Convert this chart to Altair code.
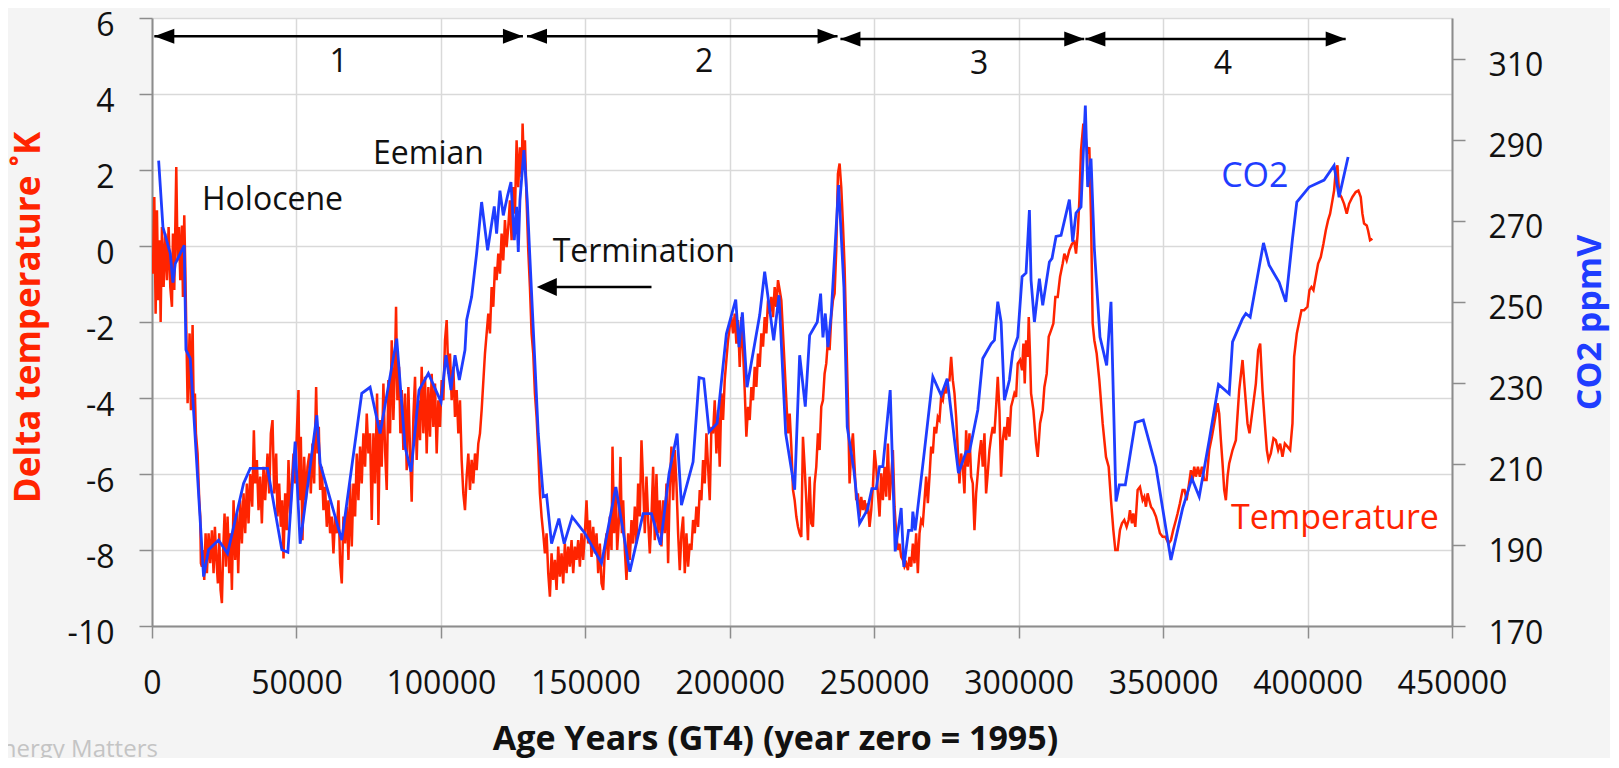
import altair as alt
import pandas as pd

RED = "#FF2400"
BLUE = "#1F3DFF"
FONT = "Open Sans"

# ---------------- data ----------------
TEMP_AGE = [
    334, 795, 1256, 1717, 2178, 2640, 2985, 3446, 4023, 4600, 5176, 5750, 6328, 6905, 7250, 7711, 8403, 8864, 9325, 9786,
    10363, 10709, 11170, 11515, 11861, 12322, 13014, 13475, 14051, 14397, 14858, 15204, 15780, 16357, 16703, 16933, 17279,
    17625, 18086, 18547, 19008, 19585, 20161, 20737, 21313, 21774, 22235, 22812, 23273, 23734, 24195, 24656, 25117, 25578,
    26155, 26731, 27192, 27653, 28230, 28806, 29382, 29843, 30535, 31111, 31688, 32264, 32840, 33417, 33993, 34685, 35261,
    35722, 36298, 36875, 37451, 38027, 38604, 39180, 39987, 40563, 41140, 41716, 42292, 42984, 43445, 44022, 44598, 45059,
    45520, 46097, 46673, 47249, 47825, 48402, 48978, 49555, 50131, 50707, 51053, 51514, 52090, 52667, 53243, 53820, 54511,
    54972, 55548, 56125, 56816, 57277, 57739, 58200, 58776, 59352, 59929, 60505, 61082, 61658, 62234, 62810, 63387, 63963,
    64540, 65116, 65692, 66269, 66845, 67421, 67998, 68574, 69151, 69727, 70303, 70880, 71456, 72032, 72609, 73185, 73762,
    74338, 74914, 75491,
    76065, 76642, 77218, 77910, 78371, 78947, 79524, 80100, 80676, 81253, 81829, 82405, 82982, 83558, 84134, 84480, 84941,
    85518, 85979, 86440, 87016, 87592, 88169, 88745, 89321, 89898, 90474, 91051, 91627, 92203, 92780, 93356, 93932, 94509,
    95085, 95662, 96238, 96814, 97391, 97967, 98543, 99120, 99696, 100272, 100849, 101425, 102002, 102578, 103154, 103731,
    104307, 104883, 105460, 106036, 106612, 107189, 107765, 108341, 108918, 109494, 110071, 110647, 111223, 111800, 112376,
    112952, 113529, 114105, 115257, 116410, 116986, 117563, 118139, 118715, 119292, 119868, 120444, 121021, 121597, 122173,
    122750, 123326, 123902, 124479, 125055, 125632, 126208, 126784, 127361, 127937, 128283, 128744, 129090, 129666, 130242,
    130819, 131395, 131972, 132548, 133124, 133700, 134277, 134853, 135429, 136006, 136582, 137159, 137735, 138311, 138888,
    139464, 140040, 140617, 141193, 141769, 142346, 142922, 143498, 144075, 144651, 145227, 145804, 146380, 146956, 147533,
    148109, 148685, 149262, 149838,
    150415, 150992, 151568, 152144, 152721, 153297, 153874, 154450, 155026, 155603, 156179, 156755, 157332, 157908, 158484,
    159061, 159406, 159983, 160559, 161020, 161712, 162173, 162634, 163095, 163671, 164248, 164824, 165401, 165977, 166553,
    167130, 167706, 168282, 168859, 169435, 170011, 170588, 171164, 171740, 172317, 172893, 173469, 174046, 174622, 175198,
    175775, 176351, 176928, 177504, 178080, 178657, 179233, 179809, 180386, 180962, 181538, 182115, 182691, 183267, 183844,
    184420, 184996, 185573, 186149, 186725, 187302, 187878, 188455, 189031, 189607, 190184, 190760, 191336, 191913, 192489,
    193065, 193642, 194218, 194794, 195371, 195947, 196523, 197100, 197676, 198252, 198829, 199405, 199982, 200558, 201134,
    201711, 202287, 202863, 203440, 204016, 204592, 205169, 205745, 206321, 206898, 207474, 208050, 208627, 209203, 209779,
    210356, 210932, 211509, 212085, 212661, 213238, 213814, 214390, 214967, 215543, 216119, 216696, 217272, 217848, 218425,
    219001, 219577, 220154, 220730, 221306, 221883, 222459, 223036, 223612, 224188,
    224755, 225332, 225908, 226484, 227061, 227637, 228214, 228790, 229366, 229943, 230519, 231095, 231672, 232248, 232824,
    233401, 233977, 234553, 235130, 235706, 236282, 236859, 237435, 238011, 238588, 239164, 239741, 240317, 240893, 241470,
    242046, 242622, 243199, 243775, 244351, 244928, 245504, 246080, 246657, 247233, 247809, 248386, 248962, 249538, 250115,
    250691, 251268, 251844, 252420, 252997, 253573, 254149, 254726, 255302, 255878, 256455, 257031, 257607, 258184, 258760,
    259336, 259913, 260489, 261065, 261642, 262218, 262795, 263371, 263947, 264524, 265100, 265676, 266253, 266829, 267405,
    267982, 268558, 269134, 269711, 270287, 270863, 271440, 272016, 272592, 273169, 273745, 274322, 274898, 275474, 276051,
    276627, 277203, 277780, 278356, 278932, 279509, 280085, 280661, 281238, 281814, 282390, 282967, 283543, 284119, 284696,
    285272, 285849, 286425, 287001, 287578, 288154, 288730, 289307, 289883, 290459, 291036, 291612, 292188, 292765, 293341,
    293917, 294494, 295070, 295646, 296223, 296799, 297375, 297952, 298528,
    299105, 299682, 300489, 301180, 301641, 302102, 302564, 303140, 303486, 303947, 304293, 305099, 306022, 306598, 307405,
    308327, 308903, 309710, 310402, 311209, 312016, 312707, 313514, 314321, 315243, 315820, 316626, 317549, 318471, 319277,
    319854, 320430, 321007, 321583, 322390, 323082, 323773, 324465, 325041, 325618, 326194, 327001, 327923, 329076, 330229,
    331151, 331957, 332764, 333456, 334263, 335070, 335761, 336568, 337375, 338067, 338528, 339219, 339680, 340372, 341179,
    341986, 342908, 343484, 344061, 344637, 345213, 345790, 346597, 347519, 348095, 348902, 349824, 350746, 351899, 352706,
    353513, 354435, 355011, 355818, 356740, 357432, 358124, 358815, 359622, 360199, 360775, 361351, 362043, 362734, 363426,
    364233, 365040, 365962, 366884, 367691, 368267, 368844, 369420, 369996, 370573, 371149, 371726, 372302, 372879,
    374032, 375184, 376337, 377490, 378297, 379219, 379911, 380948, 382101, 382908, 383599, 384406, 385213, 385905, 386481,
    387288, 388210, 389017, 389824, 390515, 391322, 392129, 393051, 393973, 394780, 395357, 396279, 396971, 397893, 398815,
    399968, 400659, 401351, 402042, 402849, 403656, 404578, 405500, 406307, 407114, 407806, 408613, 409189, 409766, 410342,
    410918, 411725, 412647, 413569, 414376, 415529, 416682, 417604, 418411, 418987, 419563, 420486, 420947, 421638, 422445,
]
TEMP_DELTA = [
    -0.73, 1.29, -1.78, 0.94, -1.43, 0.15, -2.0, 0.50, -1.08, 0.33, -0.90, 0.50, -1.08, -1.60, 0.33, -1.16, 2.08, -0.38, 0.50, -0.90,
    0.54, -1.34, 0.81, -0.55, -2.13, -4.14, -2.30, -4.32, -2.08, -4.06, -3.88, -4.93, -5.46, -6.69, -7.12, -8.35, -8.44,
    -8.0, -8.79, -7.56, -8.61, -7.56, -8.35, -7.48, -8.61, -7.39, -8.18, -8.88, -7.56, -9.05, -9.40, -8.0, -7.04, -8.44,
    -7.12, -8.61, -7.56, -9.05, -6.69, -8.26, -7.04, -8.61, -6.69, -7.83, -6.51, -7.56, -6.25, -7.30, -6.0, -6.86, -4.85,
    -6.25, -5.63, -6.95, -6.07, -7.30, -5.81, -6.69, -5.46, -6.51, -4.93, -4.58, -6.51, -5.46, -7.12, -6.25, -7.39, -6.69,
    -8.22, -6.51, -7.48, -5.63, -7.04, -6.25, -5.46, -6.25, -4.93, -3.79, -6.69, -5.02, -7.74, -5.55, -6.69, -5.81, -5.46,
    -6.51, -5.20, -6.25, -3.71, -5.46, -4.76, -6.42, -5.81, -6.95, -6.34, -7.39, -6.69, -7.56, -7.12, -8.09, -7.12, -7.56,
    -6.69, -8.35, -8.88, -7.12, -7.83, -6.86, -8.26, -6.25, -7.91, -6.25, -7.12, -5.46, -6.69, -5.28, -6.25, -4.93, -5.81,
    -4.41, -5.46, -4.93,
    -7.21, -4.93, -6.25, -3.88, -7.34, -4.58, -5.81, -3.62, -5.37, -6.42, -3.53, -4.93, -2.48, -4.58, -3.00, -1.60, -4.06,
    -3.18, -4.93, -3.79, -5.37, -3.88, -5.90, -3.71, -5.37, -6.73, -4.50, -3.44, -5.63, -4.06, -5.11, -3.18, -4.93, -3.44,
    -5.46, -3.71, -5.02, -3.36, -4.76, -3.62, -5.46, -4.06, -4.76, -3.53, -4.06, -2.48, -1.95, -3.36, -2.83, -4.06,
    -3.18, -4.50, -3.79, -4.93, -4.06, -5.63, -6.51, -6.95, -6.07, -5.46, -6.42, -5.63, -6.25, -5.46, -5.90,
    -5.20, -4.93, -4.32, -2.83, -1.78, -2.30, -1.08, -1.60, -0.55, -0.90, -0.20, -0.73, 0.33, -0.38, 0.68,
    -0.03, 0.50, 1.20, 0.15, 1.55, 0.85, 2.78, 1.55, 2.60, 1.81, 3.22, 2.08, 2.78, 1.20, -0.11,
    -1.08, -2.30, -2.83, -3.88, -4.50, -5.37, -6.51, -7.12, -7.56, -8.09, -7.56, -8.61, -9.23, -8.09, -8.79,
    -8.26, -9.05, -7.91, -8.70, -8.09, -8.88, -7.83, -8.61, -7.91, -8.44, -7.74, -8.61, -7.91, -8.26, -7.74,
    -8.44, -7.56, -8.26, -7.56,
    -6.69, -7.83, -7.22, -8.18, -7.39, -8.09, -7.56, -8.61, -7.83, -8.88, -9.05, -8.0, -7.56, -8.26, -7.12,
    -8.0, -5.28, -7.56, -6.34, -8.0, -7.12, -5.55, -7.56, -6.69, -8.0, -8.79, -7.56, -8.26, -7.21, -7.83,
    -6.86, -7.83, -6.25, -7.12, -5.11, -6.25, -7.56, -6.07, -7.21, -8.09, -7.12, -5.81, -7.74, -6.0, -7.56,
    -6.69, -7.91, -6.69, -7.56, -6.25, -8.35, -6.34, -5.28, -6.69, -5.37, -6.25, -7.56, -8.53, -7.56, -7.12,
    -8.61, -7.56, -8.44, -7.83, -8.0, -7.21, -7.56, -6.86, -7.39, -6.42, -6.69, -5.63, -6.25, -4.93, -5.81,
    -6.69, -4.76, -4.93, -4.06, -5.46, -4.32, -5.81, -3.88, -4.58, -3.53, -3.00, -2.48, -2.13, -1.87, -2.30,
    -1.78, -2.57, -1.95, -3.18, -1.87, -2.74, -3.79, -5.02, -4.23, -4.58, -3.71, -4.06, -3.18, -3.71, -2.83,
    -3.18, -2.30, -2.65, -1.87, -2.30, -1.43, -1.78, -1.34, -1.87, -1.08, -1.60, -0.90, -1.16, -1.43, -2.30,
    -3.18, -4.06, -4.93, -4.41, -5.28, -6.42, -6.69, -7.12, -7.39, -7.56,
    -7.66, -5.02, -5.81, -6.69, -7.74, -6.07, -7.30, -7.39, -6.25, -5.81, -4.93, -5.37, -4.23, -4.06, -3.36,
    -3.09, -2.48, -2.74, -1.87, -1.43, -1.25, -0.11, 1.90, 2.17, 1.55, 0.59, -0.55, -2.30, -4.06, -6.25,
    -5.37, -4.93, -5.81, -6.69, -6.51, -7.12, -6.60, -6.95, -6.69, -7.04, -6.77, -7.39, -6.95, -6.34, -5.37,
    -5.81, -6.51, -7.12, -5.98, -6.69, -5.81, -6.60, -5.20, -6.69, -6.07, -5.37, -6.86, -7.56, -8.0, -7.83,
    -8.18, -8.26, -8.44, -8.35, -8.53, -8.18, -8.44, -7.83, -8.35, -7.56, -8.61, -7.56, -7.21, -7.30, -6.69,
    -6.07, -6.77, -6.07, -5.28, -5.46, -4.76, -4.93, -4.50, -4.58, -3.97, -4.06, -3.71, -3.88, -3.53, -3.53,
    -2.92, -3.53, -3.88, -4.50, -5.37, -6.25, -5.46, -5.81, -6.51, -4.85, -5.81, -4.93, -6.07, -6.25, -7.48,
    -6.51, -5.98, -5.46, -5.11, -5.81, -4.93, -6.51, -5.98, -5.37, -5.02, -4.76, -4.93, -4.23, -3.44, -4.32,
    -6.07, -5.11, -4.76, -5.11, -4.50, -5.02, -4.23, -4.06, -3.88,
    -3.97, -3.09, -3.00, -3.27, -2.57, -3.62, -2.48, -2.92, -1.87, -2.92, -3.88, -4.32, -5.20, -5.55, -4.67,
    -4.32, -3.71, -3.36, -2.39, -2.22, -2.04, -1.34, -1.34, -0.81, -0.46, -0.20, -0.38, -0.11, 0.06, 0.11,
    -0.20, 0.33, 1.20, 2.52, 3.22, 2.95, 2.43, 2.60, 0.76, -2.04, -2.48, -2.83, -3.53, -4.67, -5.55,
    -5.81, -6.69, -7.47, -8.0, -8.0, -7.47, -7.30, -7.21, -7.39, -7.21, -6.95, -7.30, -7.04, -7.39, -6.42,
    -6.34, -6.69, -6.60, -6.86, -6.51, -6.69, -6.86, -6.95, -7.12, -7.30, -7.56, -7.65, -7.65, -7.83, -7.74,
    -7.47, -7.21, -7.04, -6.77, -6.42, -6.42, -6.69, -6.34, -5.90, -6.16, -5.81, -6.07, -5.81, -6.07, -5.81,
    -6.16, -6.16, -5.37, -5.02, -4.67, -4.41, -4.14, -4.41, -5.11, -5.72, -6.42, -6.69, -6.07, -5.72,
    -5.37, -5.11, -3.79, -3.0, -3.79, -4.67, -4.93, -4.32, -3.62, -2.74, -2.57, -3.79, -4.67, -5.37, -5.63,
    -5.46, -5.06, -5.11, -5.37, -5.20, -5.55, -5.20, -5.28, -5.37, -4.67, -2.92, -2.30, -2.04, -1.69, -1.69,
    -1.60, -1.16, -1.08, -1.16, -0.81, -0.46, -0.29, 0.06, 0.41, 0.68, 0.85, 1.20, 1.46, 1.99, 2.12,
    1.38, 1.29, 1.11, 0.85, 1.11, 1.29, 1.42, 1.46, 1.29, 0.85, 0.59, 0.54, 0.41, 0.15, 0.19,
]

CO2_AGE = [
    2300, 3790, 6330, 7250, 8060, 11170, 11750, 13240, 14170, 17860, 19580, 23040, 26150, 31690, 34000, 39990, 44940, 47020,
    49550, 51280, 57050, 58200, 65690, 72610, 75490, 78950, 84710, 87590, 89670, 92430, 95660, 100040, 101770, 103500,
    104880, 106380, 108340, 108920, 110640, 112370, 114100, 116180, 118480, 119290, 120440, 121600, 123090, 124250, 125410,
    126210, 126790, 127360, 128740, 129900, 130820, 133700, 135430, 136580, 138310, 140850, 142690, 145460, 149840, 155600,
    160560, 165400, 170010, 172890, 176000, 179000, 181770, 183270, 187300, 189380, 190990, 192840, 195600, 198830, 202060,
    203210, 204360, 205980, 210360, 212080, 215200, 217040, 219350, 222460, 224190, 226140, 227640, 230290, 231440, 232250,
    233060, 233980, 235130, 237670, 239510, 240660, 242970, 244930, 247580, 249190, 250690, 251840, 252990, 255530, 257260,
    259330, 260260, 261870, 263020, 263370, 264180, 267410, 270290, 273170, 275250, 279160, 281810, 282970, 285850, 287580,
    290460, 291610, 292770, 293920, 295070, 296800, 297950, 299680, 301180, 302560, 303720, 304290, 305450, 307170, 308330,
    310630, 311550, 312940, 314670, 317550, 318700, 319850, 321580, 323080, 323890, 325040, 326190, 328150, 330460, 331960,
    333690, 334840, 336910, 340370, 343140, 347520, 352710, 356750, 359970, 362500, 365960, 369190, 372880, 374030, 377490,
    378640, 380140, 384750, 386710, 390170, 392470, 394780, 396280, 400540, 405730, 409190, 410920, 414030,
]
CO2_PPMV = [
    284.8, 268.4, 261.9, 254.7, 259.4, 263.9, 238.1, 236.0, 225.7, 182.2, 188.8, 191.2, 187.9, 205.2, 208.9, 208.9, 188.8, 188.2,
    215.5, 190.3, 222.0, 210.1, 191.2, 227.4, 228.9, 217.5, 240.9, 214.2, 208.1, 228.2, 232.3, 225.3, 236.8, 228.2,
    236.8, 230.7, 238.1, 245.5, 251.2, 261.9, 274.6, 262.7, 273.5, 266.8, 277.4, 271.3, 276.2, 279.5, 265.2,
    273.4, 262.3, 275.0, 287.4, 275.0, 260.7, 217.5, 201.9, 202.3, 190.3, 196.5, 190.3, 196.9, 192.9, 185.5,
    204.3, 183.4, 197.7, 197.7, 190.0, 207.7, 217.5, 199.8, 210.5, 231.3, 231.0, 217.9, 220.0, 242.1, 250.5,
    238.8, 247.4, 228.9, 246.7, 257.4, 240.5, 251.6, 217.5, 203.6, 236.8, 224.1, 241.7, 245.0, 252.0, 241.2,
    247.1, 238.8, 247.1, 278.8, 253.6, 219.1, 208.4, 195.3, 198.6, 203.9, 203.9, 209.3, 209.3, 228.2, 188.4,
    199.1, 184.6, 193.6, 193.6, 198.2, 193.6, 213.4, 231.5, 226.9, 231.0, 207.7, 213.0, 213.0, 223.3, 236.0,
    239.6, 240.5, 250.0, 245.0, 225.7, 230.7, 237.7, 241.3, 256.2, 257.1, 272.6, 255.3, 245.0, 255.7, 249.1,
    259.8, 260.7, 266.1, 266.4, 275.2, 264.8, 271.9, 273.4, 298.4, 278.3, 285.3, 263.1, 241.3, 234.3, 250.0,
    200.7, 204.8, 204.8, 220.2, 220.8, 209.3, 186.3, 199.0, 206.4, 201.9, 215.8, 229.6, 227.3, 240.1, 245.8,
    247.1, 246.2, 264.5, 259.0, 254.8, 250.0, 265.5, 274.6, 278.3, 280.0, 283.6, 275.8, 285.7,
]

X_TICKS = [0, 50000, 100000, 150000, 200000, 250000, 300000, 350000, 400000, 450000]
TEMP_TICKS = [-10, -8, -6, -4, -2, 0, 2, 4, 6]
CO2_TICKS = [170, 190, 210, 230, 250, 270, 290, 310]

# interglacial cycle spans (double arrows at the top)
SPAN_START = [800, 129800, 238300, 323100]
SPAN_END = [128400, 237300, 322700, 413200]
SPAN_LEVEL = [5.52, 5.52, 5.45, 5.45]
SPAN_NAME = ["1", "2", "3", "4"]
SPAN_NAME_AGE = [64600, 191100, 286300, 370700]
SPAN_NAME_LEVEL = [4.57, 4.57, 4.53, 4.53]

# free text labels
NOTE_TEXT = ["Holocene", "Eemian", "Termination", "CO2", "Temperature"]
NOTE_AGE = [17300, 76500, 138700, 370100, 373500]
NOTE_LEVEL = [0.96, 2.15, -0.43, 1.56, -7.46]
NOTE_COLOR = ["#111111", "#111111", "#111111", BLUE, RED]
NOTE_SIZE = [32, 32, 32, 34, 34]

# "Termination" pointer
TERM_TIP_AGE = 133200
TERM_TAIL_AGE = 172900
TERM_LEVEL = -1.08

# ---------------- tables ----------------
temp_df = pd.DataFrame({"age": TEMP_AGE, "temp": TEMP_DELTA})
co2_df = pd.DataFrame({"age": CO2_AGE, "co2": CO2_PPMV})

HEAD_OFFSET = 3460  # about 10 px of the x scale
rules_rows = []
heads_rows = []
for s, e, lv in zip(SPAN_START, SPAN_END, SPAN_LEVEL):
    rules_rows.append({"age": s, "b": e, "lv": lv})
    heads_rows.append({"age": s + HEAD_OFFSET, "lv": lv, "dir": "L"})
    heads_rows.append({"age": e - HEAD_OFFSET, "lv": lv, "dir": "R"})
rules_rows.append({"age": TERM_TIP_AGE + 2000, "b": TERM_TAIL_AGE, "lv": TERM_LEVEL})
heads_rows.append({"age": TERM_TIP_AGE + HEAD_OFFSET, "lv": TERM_LEVEL, "dir": "T"})
rules_df = pd.DataFrame(rules_rows)
heads_df = pd.DataFrame(heads_rows)
names_df = pd.DataFrame({"age": SPAN_NAME_AGE, "lv": SPAN_NAME_LEVEL, "txt": SPAN_NAME})
notes_df = pd.DataFrame({"age": NOTE_AGE, "lv": NOTE_LEVEL, "txt": NOTE_TEXT, "col": NOTE_COLOR, "sz": NOTE_SIZE})
mark_df = pd.DataFrame({"age": [-56600], "lv": [-13.45], "txt": ["Energy Matters"]})

# ---------------- scales / axes ----------------
xscale = alt.Scale(domain=[0, 450000], nice=False, zero=False)
tscale = alt.Scale(domain=[-10, 6], nice=False, zero=False)
cscale = alt.Scale(domain=[170, 320], nice=False, zero=False)

x_axis = alt.Axis(
    values=X_TICKS, labelExpr="'' + datum.value", title="Age Years (GT4) (year zero = 1995)",
    orient="bottom", labelPadding=30, tickSize=12, grid=True,
    titleFontSize=34, titleX=623, titleY=123, titleBaseline="alphabetic", titleAlign="center",
)
t_axis = alt.Axis(
    values=TEMP_TICKS, labelExpr="'' + datum.value", title="Delta temperature ˚K", orient="left",
    labelAlign="right", labelBaseline="alphabetic", labelOffset=17, labelPadding=25, tickSize=13, grid=True,
    titleFontSize=35, titleColor=RED, titleAngle=270, titleX=-113, titleY=299,
    titleBaseline="alphabetic", titleAlign="center",
)
c_axis = alt.Axis(
    orient="right", values=CO2_TICKS, labelExpr="'' + datum.value", title="CO2 ppmV",
    labelAlign="left", labelBaseline="alphabetic", labelOffset=17, labelPadding=23, tickSize=13, grid=False,
    titleFontSize=34, titleColor=BLUE, titleAngle=270, titleX=148, titleY=304,
    titleBaseline="alphabetic", titleAlign="center",
)

def Yt(field="lv:Q"):
    return alt.Y(field, scale=tscale, axis=None)

XE = alt.X("age:Q", scale=xscale, axis=x_axis)

temp_line = alt.Chart(temp_df).mark_line(color=RED, strokeWidth=2.5, clip=True).encode(
    x=XE, y=alt.Y("temp:Q", scale=tscale, axis=t_axis), order="age:Q"
)
co2_line = alt.Chart(co2_df).mark_line(color=BLUE, strokeWidth=2.8, clip=True).encode(
    x=XE, y=alt.Y("co2:Q", scale=cscale, axis=c_axis), order="age:Q"
)
rules = alt.Chart(rules_df).mark_rule(color="black", strokeWidth=2.5).encode(
    x=XE, x2="b:Q", y=Yt()
)
PATH_L = "M1,-0.75L-1,0L1,0.75Z"
PATH_R = "M-1,-0.75L1,0L-1,0.75Z"
PATH_T = "M1,-0.9L-1,0L1,0.9Z"
heads = alt.Chart(heads_df).mark_point(filled=True, color="black", opacity=1, size=400, strokeWidth=0).encode(
    x=XE, y=Yt(),
    shape=alt.Shape("dir:N", scale=alt.Scale(domain=["L", "R", "T"], range=[PATH_L, PATH_R, PATH_T]), legend=None),
)
names = alt.Chart(names_df).mark_text(font=FONT, fontSize=32, color="#111111", align="center", baseline="alphabetic").encode(
    x=XE, y=Yt(), text="txt:N"
)
notes = alt.Chart(notes_df).mark_text(font=FONT, align="left", baseline="alphabetic").encode(
    x=XE, y=Yt(), text="txt:N", color=alt.Color("col:N", scale=None), size=alt.Size("sz:Q", scale=None)
)
watermark = alt.Chart(mark_df).mark_text(font=FONT, fontSize=24, color="#c4c4c4", align="left", baseline="alphabetic").encode(
    x=XE, y=Yt(), text="txt:N"
)

chart = (
    alt.layer(temp_line, co2_line, rules, heads, names, notes, watermark)
    .resolve_scale(y="independent")
    .properties(
        width=1300, height=608,
        padding={"left": 144, "top": 10, "right": 158, "bottom": 132},
        autosize=alt.AutoSizeParams(type="none"),
        background="#f4f4f4",
    )
    .configure_view(stroke=None, fill="white")
    .configure_axis(
        labelFont=FONT, labelFontSize=32, labelColor="#111111", labelFlush=False, labelOverlap=False,
        tickColor="#8c8c8c", tickWidth=1.5, domainColor="#8c8c8c", domainWidth=2,
        gridColor="#d9d9d9", gridWidth=1.5,
        titleFont=FONT, titleFontWeight="bold", titleColor="#111111",
    )
)

chart.save("out.html", embed_options={"renderer": "svg", "actions": False})
